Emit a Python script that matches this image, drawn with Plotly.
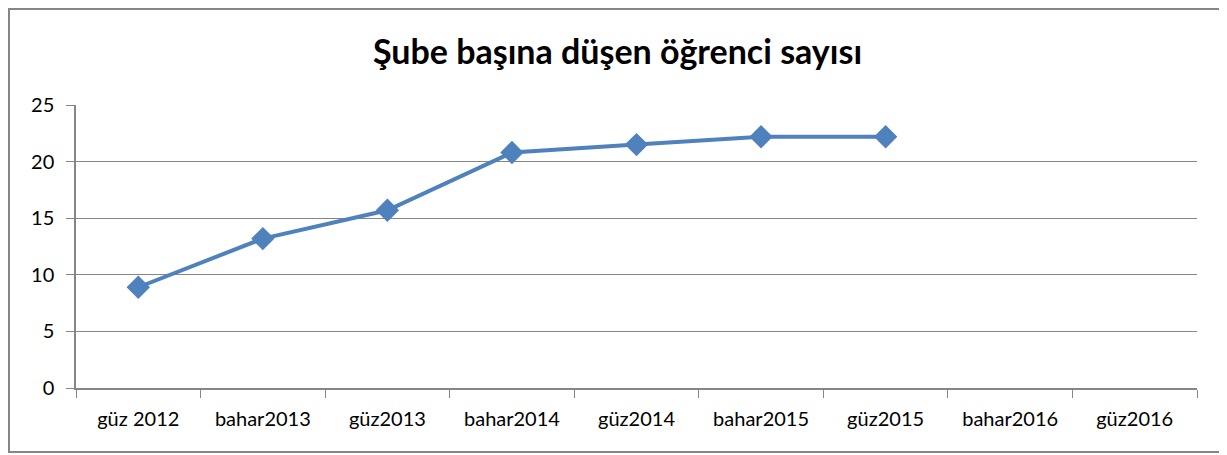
import plotly.graph_objects as go

# dönemler ve şube başına öğrenci
donemler = ["güz 2012", "bahar2013", "güz2013", "bahar2014", "güz2014",
            "bahar2015", "güz2015", "bahar2016", "güz2016"]
ogrenci = [8.9, 13.2, 15.7, 20.8, 21.5, 22.2, 22.2, None, None]
y_ticks = [0, 5, 10, 15, 20, 25]

# sayfa gövdesi 8px kaydırıyor, figür onu hesaba katıyor
W, H = 1219, 447
ML, MR, MT, MB = 68, 30, 97, 67
pw = W - ML - MR
ph = H - MT - MB

fig = go.Figure()
fig.add_trace(go.Scatter(x=donemler, y=ogrenci, mode="lines+markers",
                         line=dict(color="#4F81BD", width=4),
                         marker=dict(symbol="diamond", size=18, color="#4F81BD"),
                         connectgaps=False, showlegend=False))

# dış çerçeve
fig.add_shape(type="rect", xref="paper", yref="paper",
              x0=(1 - ML) / pw, x1=(1216 - ML) / pw,
              y0=(H - MB - 444) / ph, y1=(H - MB - 1) / ph,
              line=dict(color="#868686", width=2))

fig.update_layout(
    width=W, height=H, autosize=False,
    margin=dict(l=ML, r=MR, t=MT, b=MB),
    paper_bgcolor="white", plot_bgcolor="white",
    font=dict(family="Lato", size=20, color="#000000"),
    title=dict(text="<b>Şube başına düşen öğrenci sayısı</b>",
               x=0.5, xref="container", xanchor="center",
               y=1 - 44 / H, yanchor="middle",
               font=dict(family="Lato", size=34, color="#000000")),
)
fig.update_xaxes(type="category", range=[-0.5, 8.5], tickson="boundaries",
                 ticks="outside", ticklen=8, tickcolor="#868686",
                 ticklabelstandoff=12,
                 showline=True, linecolor="#868686", linewidth=1.5,
                 showgrid=False, zeroline=False)
fig.update_yaxes(range=[0, 25], tickvals=y_ticks,
                 ticks="outside", ticklen=8, tickcolor="#868686",
                 ticklabelstandoff=8,
                 showline=True, linecolor="#868686", linewidth=1.5,
                 showgrid=True, gridcolor="#868686", gridwidth=1,
                 zeroline=False)

fig.write_html("out.html")
